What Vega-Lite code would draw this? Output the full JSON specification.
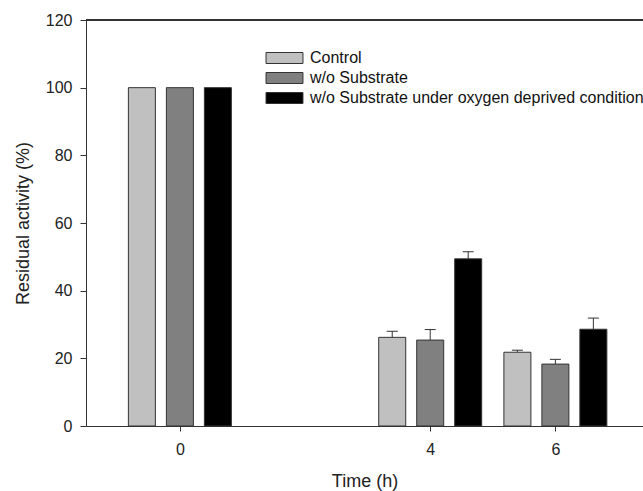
{
  "$schema": "https://vega.github.io/schema/vega-lite/v6.json",
  "autosize": "none",
  "padding": {"left": 86, "top": 20, "right": 0, "bottom": 65},
  "width": 557,
  "height": 406,
  "background": "white",
  "config": {
    "view": {"stroke": null},
    "font": "Liberation Sans",
    "axis": {
      "grid": false,
      "domainColor": "#333",
      "tickColor": "#333",
      "labelColor": "#222",
      "titleColor": "#222",
      "labelFont": "Liberation Sans",
      "titleFont": "Liberation Sans",
      "labelFontSize": 16,
      "titleFontSize": 18,
      "titleFontWeight": "normal"
    }
  },
  "data": {
    "values": [
      {"time": 0, "group": "Control", "value": 100, "err": 0},
      {"time": 0, "group": "w/o Substrate", "value": 100, "err": 0},
      {"time": 0, "group": "w/o Substrate under oxygen deprived condition", "value": 100, "err": 0},
      {"time": 4, "group": "Control", "value": 26.2, "err": 1.8},
      {"time": 4, "group": "w/o Substrate", "value": 25.4, "err": 3.1},
      {"time": 4, "group": "w/o Substrate under oxygen deprived condition", "value": 49.4, "err": 2.1},
      {"time": 6, "group": "Control", "value": 21.8, "err": 0.6},
      {"time": 6, "group": "w/o Substrate", "value": 18.3, "err": 1.4},
      {"time": 6, "group": "w/o Substrate under oxygen deprived condition", "value": 28.6, "err": 3.3}
    ]
  },
  "transform": [
    {"calculate": "datum.time + (datum.group == 'Control' ? -0.607 : (datum.group == 'w/o Substrate' ? 0 : 0.607))", "as": "xs"},
    {"calculate": "datum.xs - 0.088", "as": "xl"},
    {"calculate": "datum.xs + 0.088", "as": "xr"},
    {"calculate": "datum.value + datum.err", "as": "top"}
  ],
  "layer": [
    {
      "mark": {"type": "rule", "color": "#333", "strokeWidth": 1},
      "encoding": {"y": {"datum": 120}}
    },
    {
      "transform": [{"filter": "datum.err > 0"}],
      "mark": {"type": "rule", "color": "#333", "strokeWidth": 1},
      "encoding": {
        "x": {"field": "xs", "type": "quantitative"},
        "y": {"field": "value", "type": "quantitative"},
        "y2": {"field": "top"}
      }
    },
    {
      "transform": [{"filter": "datum.err > 0"}],
      "mark": {"type": "rule", "color": "#333", "strokeWidth": 1},
      "encoding": {
        "x": {"field": "xl", "type": "quantitative"},
        "x2": {"field": "xr"},
        "y": {"field": "top", "type": "quantitative"}
      }
    },
    {
      "mark": {"type": "bar", "width": 27, "stroke": "#333", "strokeWidth": 1},
      "encoding": {
        "x": {
          "field": "xs",
          "type": "quantitative",
          "scale": {"domain": [-1.5, 7.4], "nice": false, "zero": false, "padding": 0},
          "axis": {"values": [0, 4, 6], "title": "Time (h)", "tickSize": 5, "labelPadding": 10, "titlePadding": 15, "format": "d"}
        },
        "y": {
          "field": "value",
          "type": "quantitative",
          "scale": {"domain": [0, 120], "nice": false},
          "axis": {"values": [0, 20, 40, 60, 80, 100, 120], "title": "Residual activity (%)", "tickSize": 6, "labelPadding": 8, "titlePadding": 13}
        },
        "fill": {
          "field": "group",
          "type": "nominal",
          "scale": {
            "domain": ["Control", "w/o Substrate", "w/o Substrate under oxygen deprived condition"],
            "range": ["#c0c0c0", "#808080", "#000000"]
          },
          "legend": {
            "title": null,
            "orient": "none",
            "legendX": 190.5,
            "legendY": 30,
            "padding": 0,
            "symbolType": "M-3.36,-1H3.36V1H-3.36Z",
            "symbolSize": 121,
            "symbolStrokeColor": "#333",
            "symbolStrokeWidth": 1,
            "labelFont": "Liberation Sans",
            "labelFontSize": 16,
            "labelColor": "#111",
            "labelOffset": 17.5,
            "labelLimit": 500,
            "rowPadding": 4
          }
        }
      }
    }
  ]
}
